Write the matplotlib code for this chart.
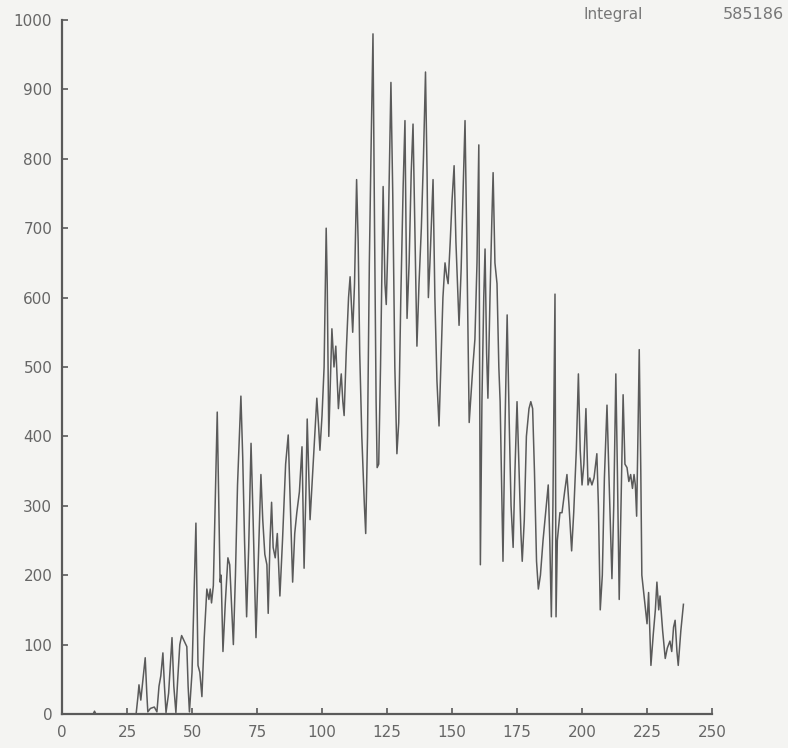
import matplotlib.pyplot as plt

# readings taken off the scanned trace (channel, counts)
chan = [0, 12, 12.5, 13, 28.5,
        29.2, 29.6, 30.3, 31, 32, 32.6, 33, 34, 35.5, 36.5, 37.3, 38, 38.8, 39.4, 40,
        41, 42.3, 43, 43.8, 44.5, 45.3, 46, 47, 48, 48.5, 49, 50, 51.5, 52.3, 53, 53.8,
        54.7, 55.7, 56.5, 57, 57.5, 58.2, 59.7, 60.3, 60.8, 61.2, 61.9, 62.8, 63.8, 64.5,
        65.9, 66.7, 67.5, 68.8, 69.5, 70.2, 71, 71.8, 72.7, 73.5, 74.6, 75.5, 76.5, 77.2,
        78, 78.8, 79.3, 80, 80.6, 81.2, 82, 82.8, 83.8, 84.8, 86, 87, 87.8, 88.7, 89.5,
        90.3, 91.3, 92.3, 93.1, 93.8, 94.3, 95, 95.4, 96.3, 97.2, 98, 98.6, 99.2, 100,
        100.8, 101.6, 102, 102.6, 103.2, 103.8, 104.6, 105.3, 106.3, 106.9, 107.4, 108,
        108.5, 109.3, 110.2, 110.8, 111.3, 111.8, 112.5, 113.3, 113.9, 114.5, 115.3,
        116.3, 116.8, 117.5, 118.2, 118.8, 119.6, 120.2, 120.8, 121.2, 121.8, 122.5,
        123.5, 124.2, 124.7, 125.5, 126.5, 127.2, 128, 128.8, 129.5, 130.3, 131.2, 131.9,
        132.3, 132.7, 133.5, 134.3, 135, 135.6, 136.5, 137.3, 138.2, 139, 139.8, 140.4,
        140.9, 141.5, 142.7, 143.4, 144.2, 145, 145.7, 146.5, 147.3, 148, 148.5, 149.3,
        150, 150.8, 151.5, 152.7, 153.5, 154.3, 155, 155.6, 156.6, 157.3, 158, 158.8,
        159.6, 160.3, 160.6, 160.9, 161.5, 162.2, 162.7, 163.3, 163.8, 164.6, 165.3,
        165.8, 166.5, 167.3, 168, 168.5, 169.2, 169.6, 170.3, 171.2, 172, 172.7, 173.5,
        174.2, 175, 175.8, 176.5, 177, 177.8, 178.6, 179.6, 180.3, 181, 181.7, 182.5,
        183.2, 184, 185, 186, 187, 187.6, 188.2, 188.8, 189.6, 190, 190.5, 191.5, 192.3,
        193.3, 194.2, 195, 196, 196.8, 197.8, 198.6, 199.3, 200, 200.7, 201.5, 202.3,
        203, 203.8, 204.6, 205.7, 206.3, 207, 207.8, 208.6, 209.6, 210.3, 211.5, 212.2,
        213, 213.6, 214.3, 215, 215.8, 216.5, 217.3, 218, 218.7, 219.4, 220, 220.5, 221,
        221.5, 222, 222.6, 223, 223.7, 224.4, 225, 225.6, 226.5, 227.4, 228.2, 228.8,
        229.5, 230, 231, 232, 232.8, 233.8, 234.5, 235.2, 235.8, 236.5, 237, 238, 239]

counts = [0, 0, 4, 0, 0,
          25, 42, 20, 45, 81, 30, 3, 8, 10, 3, 40, 55, 88, 40, 2,
          30, 110, 40, 2, 50, 100, 113, 105, 97, 40, 3, 60, 275, 70, 60, 25,
          110, 180, 165, 180, 160, 185, 435, 300, 190, 200, 90, 160, 225, 215,
          100, 200, 330, 458, 370, 250, 140, 240, 390, 280, 110, 220, 345, 280,
          230, 215, 145, 250, 305, 240, 225, 260, 170, 250, 360, 402, 300, 190, 260,
          290, 320, 385, 210, 320, 425, 330, 280, 340, 400, 455, 420, 380, 430,
          500, 700, 620, 400, 480, 555, 500, 530, 440, 470, 490, 450,
          430, 520, 600, 630, 590, 550, 620, 770, 680, 520, 400,
          300, 260, 400, 650, 800, 980, 700, 450, 355, 360, 500,
          760, 620, 590, 700, 910, 750, 500, 375, 420, 600, 760, 855,
          700, 570, 650, 780, 850, 720, 530, 620, 700, 800, 925, 780,
          600, 650, 770, 600, 480, 415, 500, 600, 650, 630, 620, 680,
          740, 790, 680, 560, 640, 760, 855, 700, 420, 460, 500, 540,
          650, 820, 500, 215, 450, 600, 670, 520, 455, 600, 710,
          780, 650, 620, 500, 450, 300, 220, 400, 575, 420, 300, 240,
          350, 450, 350, 260, 220, 280, 400, 440, 450, 440, 350, 220,
          180, 200, 250, 290, 330, 250, 140, 300, 605, 140, 250, 290, 290,
          320, 345, 300, 235, 290, 380, 490, 380, 330, 360, 440, 330,
          340, 330, 340, 375, 300, 150, 200, 340, 445, 350, 195, 300,
          490, 350, 165, 300, 460, 360, 355, 335, 345, 325, 345, 330, 285,
          400, 525, 350, 200, 175, 150, 130, 175, 70, 115, 150, 190,
          150, 170, 120, 80, 95, 105, 90, 125, 135, 90, 70, 120, 158]

integral_label = "Integral"
integral_value = "585186"

ink = "#5a5a5a"
paper = "#f4f4f2"

fig = plt.figure(figsize=(7.88, 7.48), dpi=100, facecolor=paper)
ax = fig.add_axes([0.0787, 0.0455, 0.8249, 0.9278], facecolor=paper)

ax.plot(chan, counts, color=ink, lw=1.1)

ax.set_xlim(0, 250)
ax.set_ylim(0, 1000)
ax.set_xticks(range(0, 251, 25))
ax.set_yticks(range(0, 1001, 100))

for side in ["top", "right"]:
    ax.spines[side].set_visible(False)
for side in ["left", "bottom"]:
    ax.spines[side].set_color(ink)
    ax.spines[side].set_linewidth(1.6)

ax.tick_params(direction="in", length=4, width=1.2, colors=ink,
               labelsize=11, labelcolor="#666666")
ax.tick_params(axis="x", pad=8)
ax.tick_params(axis="y", pad=7)

fig.text(0.74, 0.981, integral_label, color="#777777", fontsize=11, va="center")
fig.text(0.995, 0.981, integral_value, color="#777777", fontsize=11.5,
         va="center", ha="right")

fig.savefig("out.png", dpi=100, facecolor=paper)
